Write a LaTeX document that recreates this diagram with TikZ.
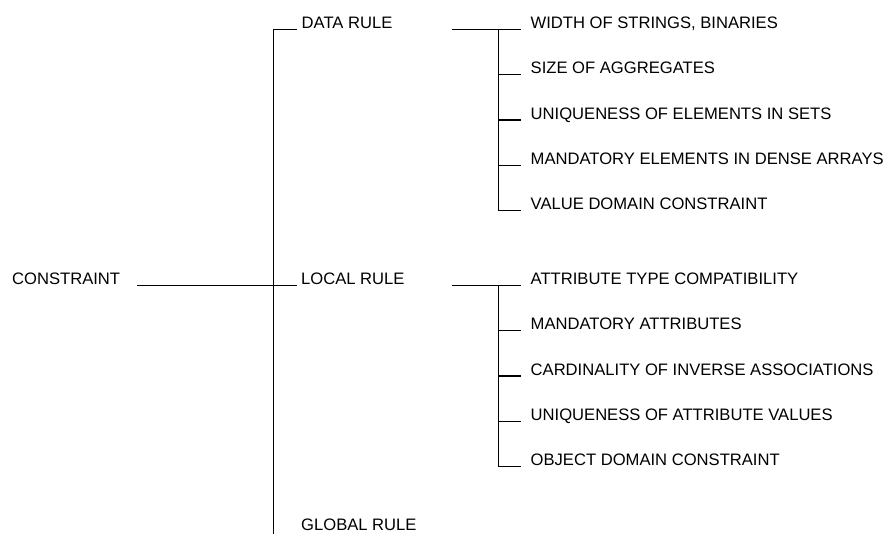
\documentclass[tikz,border=0pt]{standalone}
\usepackage{fontspec}
\setmainfont{Liberation Sans}
\begin{document}
\begin{tikzpicture}[x=1pt,y=-1pt,
  lbl/.style={anchor=base west,inner sep=0pt,font=\fontsize{16.6}{18}\selectfont},
  wire/.style={line width=1.1pt,line cap=rect}]
\useasboundingbox[fill=white] (0,0) rectangle (886,533);
% level 0 and 1
\node[lbl] (cons) at (12,284.5) {CONSTRAINT};
\node[lbl] (data) at (301.5,28.5) {DATA RULE};
\node[lbl] (local) at (301,284.5) {LOCAL RULE};
\node[lbl] (global) at (301,530) {GLOBAL RULE};
\coordinate (c0) at (138,285.5);
\coordinate (jtop) at (273.3,29.5);
\coordinate (jbot) at (273.3,545);
\coordinate (dend) at (296,29.5);
\coordinate (lend) at (296,285.5);
\draw[wire] (c0) -- (lend);
\draw[wire] (dend) -- (jtop) -- (jbot);
% data rule subtree
\node[lbl] (d1) at (530.5,28.5) {WIDTH OF STRINGS, BINARIES};
\node[lbl] (d2) at (530.5,73.75) {SIZE OF AGGREGATES};
\node[lbl] (d3) at (530.5,119) {UNIQUENESS OF ELEMENTS IN SETS};
\node[lbl] (d4) at (530.5,164.25) {MANDATORY ELEMENTS IN DENSE ARRAYS};
\node[lbl] (d5) at (530.5,209.5) {VALUE DOMAIN CONSTRAINT};
\coordinate (dh0) at (452.7,29.5);
\coordinate (dv1) at (498.3,29.5);
\coordinate (dv5) at (498.3,210.5);
\coordinate (ds1) at (520.7,29.5);
\coordinate (ds2) at (520.7,74.75);
\coordinate (ds3) at (520.7,120);
\coordinate (ds4) at (520.7,165.25);
\coordinate (ds5) at (520.7,210.5);
\draw[wire] (dh0) -- (ds1);
\draw[wire] (dv1) -- (dv5) -- (ds5);
\draw[wire] (dv1 |- ds2) -- (ds2);
\draw[wire] (dv1 |- ds3) -- (ds3);
\draw[wire] (dv1 |- ds4) -- (ds4);
% local rule subtree
\node[lbl] (l1) at (530.5,284.5) {ATTRIBUTE TYPE COMPATIBILITY};
\node[lbl] (l2) at (530.5,329.75) {MANDATORY ATTRIBUTES};
\node[lbl] (l3) at (530.5,375) {CARDINALITY OF INVERSE ASSOCIATIONS};
\node[lbl] (l4) at (530.5,420.25) {UNIQUENESS OF ATTRIBUTE VALUES};
\node[lbl] (l5) at (530.5,465.5) {OBJECT DOMAIN CONSTRAINT};
\coordinate (lh0) at (452.7,285.5);
\coordinate (lv1) at (498.3,285.5);
\coordinate (lv5) at (498.3,466.5);
\coordinate (ls1) at (520.7,285.5);
\coordinate (ls2) at (520.7,330.75);
\coordinate (ls3) at (520.7,376);
\coordinate (ls4) at (520.7,421.25);
\coordinate (ls5) at (520.7,466.5);
\draw[wire] (lh0) -- (ls1);
\draw[wire] (lv1) -- (lv5) -- (ls5);
\draw[wire] (lv1 |- ls2) -- (ls2);
\draw[wire] (lv1 |- ls3) -- (ls3);
\draw[wire] (lv1 |- ls4) -- (ls4);
\end{tikzpicture}
\end{document}
